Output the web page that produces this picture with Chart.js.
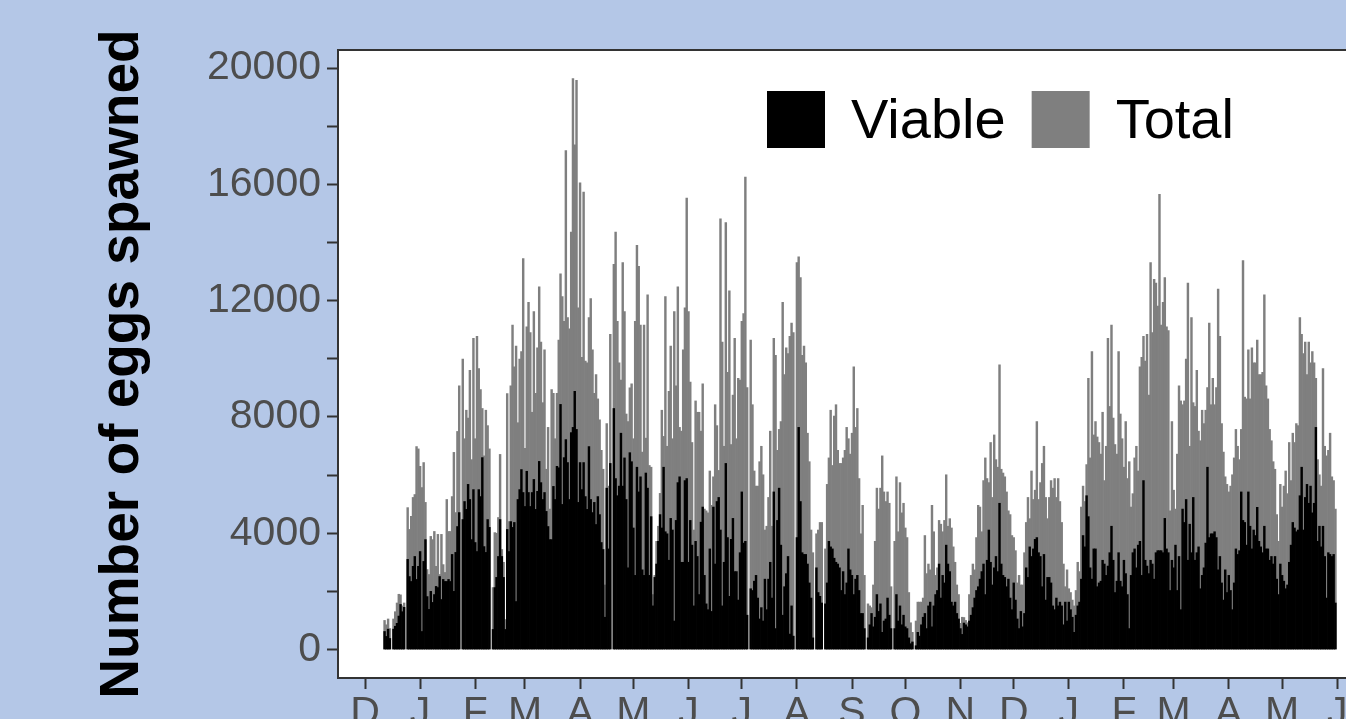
<!DOCTYPE html>
<html>
<head>
<meta charset="utf-8">
<script src="https://cdn.jsdelivr.net/npm/chart.js@4.4.1/dist/chart.umd.min.js"></script>
<style>
  html, body { margin: 0; padding: 0; overflow: hidden; background: #b4c7e7; }
  canvas { display: block; }
</style>
</head>
<body>
<canvas id="eggs" width="1400" height="740"></canvas>
<script>
// day 0 = 1 December of the first year, one value per day, null = no record
const firstDay = 11;

const viable = [
  620, 450, 700, 380, null,
  700, 800, 900, 1150, 1550, 1300, 1450, null,
  3100, 2510, 2340, 2860, 3200, 2410, 2860, 3370, 620, 3030, 3780, 1820, 1380, 2000, 1620,
  1890, 2170, 2130, 2510, 1720, 2410, 2340, 2340, 2410, 2340, 3270, 2000, 3340, 4230, 4710, null,
  4470, 5090, 4820, 5680, 5160, 3780, 5500, 3680, 3370, 5500, 5260, 6600, 3540, 3340, 4470, 4200, null,
  690, 2130, 2480, 3200, 4470, 3200, 2480, 690, 4130, 3370, 4400, 4200, 4370, 1650,
  5160, 5500, 6190, 5400, 4920, 6130, 5400, 4920, 5400, 5850, 4820, 5440, 6470,
  5740, 5160, 5400, 4750, 4230, 3780, 3780, 5610, 5160, 6300, 6250, 8430, 4990, 6600, 7220, 6430,
  5160, 7460, 7640, 8880, 7570, 5060, 6430, 5500, 6430, 5260, 4820, 6980, 5160, 4710, 5060, 4300,
  5260, 4640, 3680, 3440, 1110, 5550, 3460, 6400, null,
  8290, 5880, 5290, 5620, 7440, 5620, 6590, 5160, 2810, 6770, 6460, 4180, 2550, 6270, 5420, 5940,
  2740, 2550, 6070, 5550, 2550, 4570, 1500, 2480, 2940, 3720, 4640, 4180, 6270, 4050, 3980, 3070,
  4510, 4110, 980, 4440, 5740, 5940, 3000, 3000, 5810, 5880, 3000, 4440, 3590, 1500, 3720, 3200,
  1890, 4380, 4900, 2550, 1570, 1370, 3460, 1310, 4900, 2940, 5090, 5230, 4110, 1500, 3000, 6400,
  3850, 1830, 3790, 4510, 2680, 2680, 1700, 3330, 5420, 3660, 3720, 1180, null,
  2090, 2030, 2350, 2550, 1770, 1050, 1440, 980, 2420, 1370, 2420, 3000, 1770, 5420, 720, 4440,
  5550, 3590, 1180, 2160, 2610, 3200, 530, 1500, 460, null,
  3850, 7640, 5090, 3330, 3270, 3270, 2940, 2290, 1770, 400, null,
  2810, 1960, 1830, 1600, null,
  1570, 2290, 3720, 3530, 3460, 3140, 3000, 2940, 2810, 2030, 2680, 1890, 2290, 3460, 2740, 2550,
  1890, 2420, 2550, 2030, 1240, 1240, 720, null,
  400, 850, 1240, 780, 1110, 1890, 1310, 1570, 590, 980, 1050, 1770, 1180, 720, null,
  720, 1890, 980, 1500, 850, 1180, 780, 720, 400, 200, 260, null,
  130, 590, 460, 850, 1110, 1240, 720, 1500, 1630, 780, 1500, 1890, 2030, 2940, 1770, 2550,
  2290, 3590, 2940, 2680, 1630, 1500, 1630, 1240, 1050, 720, 520, 910, 850, 780, 980, 1180,
  1440, 1770, 2030, 2160, 2420, 2680, 2940, 1890, 3070, 4110, 3000, 2220, 2810, 3200, 2680, 5030,
  2940, 2550, 2480, 2160, 2420, 1770, 1370, 2290, 1700, 1050, 720,
  1310, 780, 1240, 2810, 2480, 3530, 3200, 3460, 3790, 3850, 3330, 3200, 2160, 3270, 1700, 2480,
  2480, 2290, 1500, 1370, 1770, 1500, 1630, 1500, 850, 1630, 980, 1630, 1370, 1110, 590, 1180,
  1500, 1630, 2420, 3920, 3530, 5290, 4570, 2810, 2420, 3460, 3460, 2160, 2290, 2350, 3070, 2940,
  2550, 2870, 3330, 4240, 3070, 1960, 2350, 3330, 2350, 2160, 3070, 2610, 1890, 720, 2550, 3330,
  3460, 2810, 3590, 3720, 2550, 5810, 3070, 2870, 2610, 3070, 2940, 2420, 3330, 3400, 3400, 3400,
  3330, 4510, 3460, 3330, 2030, 3070, 2810, 3590, 2030, 3200,
  1370, 4830, 4370, 5160, 3070, 4310, 3330, 5230, 3070, 3330, 3530, 2090, 2550, 2810, 3660, 6270,
  3850, 3980, 3980, 4050, 3850, 2740, 3200, 2290, 1700, 2740, 1960, 2550, 2030, 1370, 2290, 3460,
  3270, 3400, 5420, 4440, 4370, 3590, 5420, 4240, 3460, 4110, 3920, 4890, 3720, 3530, 3330, 4240,
  3460, 3460, 3070, 3200, 2940, 3200, 2420, 1890, 2940, 2550, 2350, 2090, 2220, 3000, 3590, 4370,
  4180, 4050, 4110, 5290, 6270, 4110, 5230, 5680, 5030, 5620, 4700, 5030, 7640, 3720, 4240, 3530,
  4240, 3200, 1770, 3330, 3270, 3200, 3270, 1600
];

const total = [
  1000, 850, 1050, 720, null,
  1050, 1300, 1600, 1900, 1880, 1500, 1600, null,
  4880, 4130, 4580, 5230, 5330, 6980, 6900, 6300, 5570, 6430, 5060, 2750, 2580, 3890, 3780,
  4060, 2860, 3960, 2580, 3960, 2920, 2650, 5160, 4060, 4060, 5260, 6780, 4710, 7500, 9070, null,
  9990, 7250, 8230, 7960, 9600, 6530, 10700, 7250, 10770, 9660, 8940, 8290, 6660, 8230, 7700, 6900, null,
  2130, 4020, 4000, 4540, 6710, 3440, 3000, 1030, 8800, 4400, 9070, 11160, 9720, 10440,
  7800, 9990, 10250, 13450, 6920, 11100, 11940, 10900, 8160, 11620, 8810, 10380, 12470,
  10570, 8490, 10310, 6200, 7640, 4830, 8940, 8810, 7250, 8810, 10640, 12920, 12140, 11290, 17160, 11420,
  11030, 14360, 19640, 17360, 19580, 11750, 16050, 10050, 15730, 9920, 9860, 11420, 12070, 10310, 8810, 9460,
  8620, 7900, 6850, 6200, 2220, 7770, 5620, 10840, null,
  13250, 14360, 11290, 9860, 9270, 13310, 11620, 8100, 7840, 9000, 9140, 7250, 11290, 13900, 13180, 11160,
  6790, 11160, 7270, 12200, 6330, 6270, 1890, 2550, 3720, 4240, 5370, 8230, 7330, 12140, 6990, 8880,
  10440, 7250, 11620, 9070, 12470, 7640, 7510, 10310, 11750, 15530, 11620, 9200, 7120, 4110, 8550, 8160,
  8160, 7510, 9140, 4830, 4770, 4700, 6140, 4960, 5940, 8420, 7700, 6160, 14810, 10570, 6990, 14680,
  9530, 12340, 7050, 8750, 10700, 7250, 9330, 9270, 11290, 11550, 16250, 9010, null,
  10640, 8420, 6140, 5620, 5620, 6460, 6990, 6010, 4110, 4240, 5230, 7510, 4240, 10700, 10120, 6850,
  7570, 7840, 11940, 9460, 10380, 10180, 10770, 11230, 10900, null,
  13310, 13510, 12790, 10120, 10440, 9860, 7440, 6460, 4110, 3330, null,
  3980, 4110, 4370, 4370, null,
  3460, 5680, 6590, 8230, 6330, 8030, 8420, 6850, 6400, 6400, 6590, 6850, 7640, 7250, 6720, 7440,
  9720, 7640, 8290, 5880, 3980, 4960, 2550, null,
  1570, 1500, 1440, 2220, 3720, 5550, 4830, 5550, 6660, 5420, 5090, 5420, 5030, 2160, null,
  3720, 5940, 4050, 5740, 4700, 5030, 4180, 3850, 1960, 920, 590, null,
  980, 1630, 1630, 1630, 1770, 3920, 2610, 2940, 2740, 4960, 4050, 2550, 2810, 4440, 4310, 4050,
  4440, 6010, 4240, 4500, 4180, 3530, 3000, 2220, 1890, 900, 1110, 1100, 1000, 920, 1890, 2550,
  2940, 2740, 3850, 4960, 4900, 4050, 5810, 6590, 5880, 5740, 7120, 5230, 7380, 6530, 6270, 9790,
  6200, 6070, 5940, 5420, 4770, 4640, 3920, 3850, 3400, 2290, 2550,
  2220, 2220, 3330, 4370, 5230, 4500, 6140, 5160, 5480, 7840, 5160, 5740, 6400, 6990, 5230, 4500,
  5230, 5810, 5550, 5880, 5230, 5880, 5090, 4370, 2940, 2160, 2740, 2090, 1960, 1700, 1500, 2030,
  3000, 2680, 4900, 5620, 5090, 6360, 9330, 6590, 10250, 7380, 7840, 7310, 7120, 6720, 8160, 5810,
  6990, 10700, 8360, 11160, 7960, 7050, 6720, 10250, 8100, 7250, 6270, 7840, 5880, 6460, 4900, 5360,
  6590, 6990, 6140, 9720, 10050, 10770, 9920, 10840, 8750, 13310, 10900, 12730, 12600, 11810, 15660, 11160,
  11940, 12790, 11100, 10970, 4770, 7840, 5480, 4830, 6720, 9070,
  8550, 8420, 8550, 9990, 12600, 6990, 11420, 8490, 8360, 9600, 7510, 7180, 8230, 7770, 8230, 9010,
  11230, 8420, 9330, 8420, 9010, 12400, 10770, 7770, 6790, 5940, 5680, 5420, 5620, 6010, 6590, 7570,
  6990, 6530, 7570, 13380, 8680, 8620, 10310, 8620, 10380, 9860, 9860, 10640, 9460, 9460, 9530, 12200,
  9070, 8620, 7570, 7180, 6460, 6200, 4640, 3720, 5680, 4900, 5620, 6140, 5360, 7120, 5810, 7440,
  7120, 7770, 7700, 11420, 10840, 10180, 10570, 9460, 10570, 9860, 10250, 9860, 9330, 6530, 6010, 5620,
  9660, 6990, 6660, 6850, 7440, 5940, 5810, 4830
];

const monthLabels = ['D', 'J', 'F', 'M', 'A', 'M', 'J', 'J', 'A', 'S', 'O', 'N', 'D', 'J', 'F', 'M', 'A', 'M', 'J'];
const monthStarts = [0, 31, 62, 90, 121, 151, 182, 212, 243, 274, 304, 335, 365, 396, 427, 455, 486, 516, 547];
const yTicks = [0, 2000, 4000, 6000, 8000, 10000, 12000, 14000, 16000, 18000, 20000];
const yLabelled = [0, 4000, 8000, 12000, 16000, 20000];

const font = '"Liberation Sans", Arial, Helvetica, sans-serif';

// zet een reeks om naar {x, y} punten op de dag-as
function toPoints(values) {
  return values.map((v, i) => ({ x: firstDay + i, y: v }));
}

// witte plotvlak met donkere rand
const panel = {
  id: 'panel',
  beforeDraw(chart) {
    const { ctx, chartArea: a } = chart;
    ctx.save();
    ctx.fillStyle = '#b4c7e7';
    ctx.fillRect(0, 0, chart.width, chart.height);
    ctx.fillStyle = '#ffffff';
    ctx.fillRect(a.left, a.top, a.right - a.left, a.bottom - a.top);
    ctx.restore();
  },
  afterDraw(chart) {
    const { ctx, chartArea: a } = chart;
    ctx.save();
    ctx.strokeStyle = '#333333';
    ctx.lineWidth = 2;
    ctx.strokeRect(a.left, a.top, a.right - a.left, a.bottom - a.top);
    ctx.restore();
  }
};

// legenda binnen het plotvlak, rechtsboven
const insideLegend = {
  id: 'insideLegend',
  afterDraw(chart) {
    const { ctx, chartArea: a } = chart;
    let x = a.left + 429;
    const top = a.top + 41;
    ctx.save();
    ctx.font = '56px ' + font;
    ctx.textBaseline = 'middle';
    chart.data.datasets.forEach(ds => {
      ctx.fillStyle = ds.backgroundColor;
      ctx.fillRect(x, top, 58, 57);
      ctx.fillStyle = '#000000';
      ctx.fillText(ds.label, x + 84, top + 32);
      x += 84 + ctx.measureText(ds.label).width + 26;
    });
    ctx.restore();
  }
};

const ctx = document.getElementById('eggs').getContext('2d');
const eggChart = new Chart(ctx, {
  type: 'bar',
  data: {
    datasets: [
      {
        label: 'Viable',
        data: toPoints(viable),
        backgroundColor: '#000000',
        grouped: false,
        barPercentage: 1,
        categoryPercentage: 1
      },
      {
        label: 'Total',
        data: toPoints(total),
        backgroundColor: '#7f7f7f',
        grouped: false,
        barPercentage: 1,
        categoryPercentage: 1
      }
    ]
  },
  options: {
    responsive: false,
    animation: false,
    devicePixelRatio: 1,
    layout: { padding: { left: 0, top: 50, right: 18, bottom: 0 } },
    plugins: {
      legend: { display: false },
      tooltip: { enabled: false }
    },
    scales: {
      x: {
        type: 'linear',
        offset: false,
        min: -15.2,
        max: 572.2,
        afterBuildTicks: scale => { scale.ticks = monthStarts.map(v => ({ value: v })); },
        afterFit: scale => { scale.height = 62; },
        grid: { offset: false, drawOnChartArea: false, tickLength: 11, tickWidth: 2, tickColor: '#333333' },
        border: { display: false },
        ticks: {
          autoSkip: false,
          maxRotation: 0,
          padding: 0,
          color: '#4d4d4d',
          font: { family: font, size: 41 },
          callback: (value, index) => monthLabels[index]
        }
      },
      y: {
        min: -980,
        max: 20620,
        afterBuildTicks: scale => { scale.ticks = yTicks.map(v => ({ value: v })); },
        afterFit: scale => { scale.width = 338; },
        grid: { drawOnChartArea: false, tickLength: 11, tickWidth: 2, tickColor: '#333333' },
        border: { display: false },
        ticks: {
          padding: 6,
          color: '#4d4d4d',
          font: { family: font, size: 41 },
          callback: value => yLabelled.includes(value) ? String(value) : ''
        },
        title: {
          display: true,
          text: 'Number of eggs spawned',
          color: '#000000',
          font: { family: font, size: 55, weight: 'bold' },
          padding: { top: 90, bottom: 0 }
        }
      }
    }
  },
  plugins: [panel, insideLegend]
});
</script>
</body>
</html>
